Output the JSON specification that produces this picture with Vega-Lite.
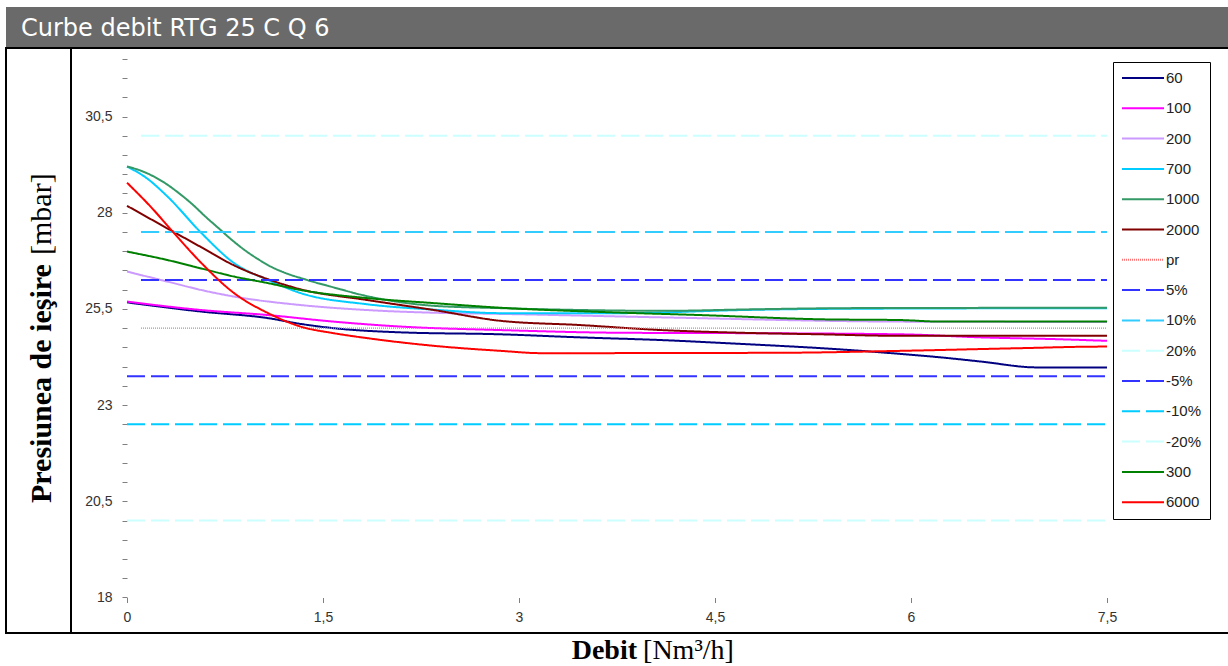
{
  "$schema": "https://vega.github.io/schema/vega-lite/v6.json",
  "padding": {"left": 5, "top": 7, "right": 0, "bottom": 0},
  "bounds": "flush",
  "columns": 2,
  "spacing": 0,
  "config": {"concat": {"spacing": 0}, "view": {"stroke": null}},
  "datasets": {
    "curves": [
      {"s":"60","x":0,"y":25.67},{"s":"60","x":0.57,"y":25.43},{"s":"60","x":1.08,"y":25.26},{"s":"60","x":1.33,"y":25.11},{"s":"60","x":1.58,"y":25.0},{"s":"60","x":2.1,"y":24.89},{"s":"60","x":2.86,"y":24.84},{"s":"60","x":3.47,"y":24.76},{"s":"60","x":4.09,"y":24.69},{"s":"60","x":4.7,"y":24.59},{"s":"60","x":5.31,"y":24.48},{"s":"60","x":5.62,"y":24.41},{"s":"60","x":5.92,"y":24.33},{"s":"60","x":6.23,"y":24.24},{"s":"60","x":6.54,"y":24.13},{"s":"60","x":6.96,"y":23.98},{"s":"60","x":7.5,"y":23.98},
      {"s":"100","x":0,"y":25.69},{"s":"100","x":0.57,"y":25.47},{"s":"100","x":1.08,"y":25.34},{"s":"100","x":1.58,"y":25.17},{"s":"100","x":2.1,"y":25.04},{"s":"100","x":2.86,"y":24.95},{"s":"100","x":3.78,"y":24.88},{"s":"100","x":4.7,"y":24.87},{"s":"100","x":5.92,"y":24.84},{"s":"100","x":6.54,"y":24.76},{"s":"100","x":7.15,"y":24.71},{"s":"100","x":7.5,"y":24.67},
      {"s":"200","x":0,"y":26.47},{"s":"200","x":0.31,"y":26.21},{"s":"200","x":0.57,"y":25.99},{"s":"200","x":0.82,"y":25.82},{"s":"200","x":1.33,"y":25.6},{"s":"200","x":1.84,"y":25.47},{"s":"200","x":2.35,"y":25.4},{"s":"200","x":2.86,"y":25.37},{"s":"200","x":4.09,"y":25.28},{"s":"200","x":5.92,"y":25.17},{"s":"200","x":7.5,"y":25.16},
      {"s":"700","x":0,"y":29.2},{"s":"700","x":0.15,"y":28.9},{"s":"700","x":0.31,"y":28.42},{"s":"700","x":0.57,"y":27.47},{"s":"700","x":0.82,"y":26.69},{"s":"700","x":1.08,"y":26.25},{"s":"700","x":1.33,"y":25.91},{"s":"700","x":1.84,"y":25.62},{"s":"700","x":2.35,"y":25.48},{"s":"700","x":2.86,"y":25.39},{"s":"700","x":3.78,"y":25.39},{"s":"700","x":4.7,"y":25.47},{"s":"700","x":5.31,"y":25.5},{"s":"700","x":7.5,"y":25.52},
      {"s":"1000","x":0,"y":29.2},{"s":"1000","x":0.1,"y":29.1},{"s":"1000","x":0.2,"y":28.95},{"s":"1000","x":0.3,"y":28.75},{"s":"1000","x":0.4,"y":28.5},{"s":"1000","x":0.5,"y":28.22},{"s":"1000","x":0.6,"y":27.9},{"s":"1000","x":0.7,"y":27.6},{"s":"1000","x":0.8,"y":27.3},{"s":"1000","x":0.9,"y":27.03},{"s":"1000","x":1.0,"y":26.8},{"s":"1000","x":1.1,"y":26.6},{"s":"1000","x":1.2,"y":26.45},{"s":"1000","x":1.38,"y":26.25},{"s":"1000","x":1.58,"y":26.06},{"s":"1000","x":1.84,"y":25.83},{"s":"1000","x":2.1,"y":25.67},{"s":"1000","x":2.35,"y":25.58},{"s":"1000","x":2.86,"y":25.52},{"s":"1000","x":3.5,"y":25.47},{"s":"1000","x":4.1,"y":25.45},{"s":"1000","x":4.8,"y":25.49},{"s":"1000","x":5.5,"y":25.52},{"s":"1000","x":7.5,"y":25.53},
      {"s":"2000","x":0,"y":28.18},{"s":"2000","x":0.31,"y":27.59},{"s":"2000","x":0.57,"y":27.1},{"s":"2000","x":0.82,"y":26.63},{"s":"2000","x":1.08,"y":26.27},{"s":"2000","x":1.33,"y":26.01},{"s":"2000","x":1.84,"y":25.73},{"s":"2000","x":2.35,"y":25.47},{"s":"2000","x":2.86,"y":25.19},{"s":"2000","x":3.47,"y":25.08},{"s":"2000","x":4.09,"y":24.95},{"s":"2000","x":4.7,"y":24.88},{"s":"2000","x":5.31,"y":24.84},{"s":"2000","x":5.92,"y":24.8},{"s":"2000","x":7.5,"y":24.8},
      {"s":"pr","x":0.107,"y":25},{"s":"pr","x":7.5,"y":25},
      {"s":"5%","x":0.107,"y":26.25},{"s":"5%","x":7.5,"y":26.25},
      {"s":"10%","x":0.107,"y":27.5},{"s":"10%","x":7.5,"y":27.5},
      {"s":"20%","x":0.107,"y":30},{"s":"20%","x":7.5,"y":30},
      {"s":"-5%","x":0,"y":23.75},{"s":"-5%","x":7.5,"y":23.75},
      {"s":"-10%","x":0,"y":22.5},{"s":"-10%","x":7.5,"y":22.5},
      {"s":"-20%","x":0,"y":20},{"s":"-20%","x":7.5,"y":20},
      {"s":"300","x":0,"y":26.99},{"s":"300","x":0.31,"y":26.77},{"s":"300","x":0.57,"y":26.55},{"s":"300","x":0.82,"y":26.34},{"s":"300","x":1.08,"y":26.17},{"s":"300","x":1.33,"y":25.99},{"s":"300","x":1.84,"y":25.78},{"s":"300","x":2.35,"y":25.65},{"s":"300","x":2.86,"y":25.53},{"s":"300","x":3.63,"y":25.42},{"s":"300","x":4.39,"y":25.34},{"s":"300","x":5.31,"y":25.23},{"s":"300","x":5.92,"y":25.21},{"s":"300","x":6.23,"y":25.17},{"s":"300","x":7.5,"y":25.17},
      {"s":"6000","x":0,"y":28.78},{"s":"6000","x":0.18,"y":28.16},{"s":"6000","x":0.36,"y":27.47},{"s":"6000","x":0.57,"y":26.69},{"s":"6000","x":0.82,"y":25.91},{"s":"6000","x":1.08,"y":25.39},{"s":"6000","x":1.33,"y":25.04},{"s":"6000","x":1.58,"y":24.87},{"s":"6000","x":1.84,"y":24.74},{"s":"6000","x":2.35,"y":24.54},{"s":"6000","x":2.86,"y":24.41},{"s":"6000","x":3.17,"y":24.35},{"s":"6000","x":5.0,"y":24.36},{"s":"6000","x":5.92,"y":24.41},{"s":"6000","x":6.84,"y":24.48},{"s":"6000","x":7.45,"y":24.52},{"s":"6000","x":7.5,"y":24.52}
    ]
  },
  "concat": [
    {
      "width": 65,
      "height": 41,
      "view": {"fill": "#6a6a6a", "stroke": null},
      "layer": [
        {
          "mark": {"type": "rule", "color": "#000000", "strokeWidth": 2},
          "encoding": {"x": {"datum": 0, "type": "quantitative", "scale": {"domain": [0, 1]}, "axis": null}, "x2": {"datum": 1}, "y": {"datum": 1, "type": "quantitative", "scale": {"domain": [0, 1]}, "axis": null}}
        },
        {
          "mark": {"type": "rule", "color": "#000000", "strokeWidth": 2},
          "encoding": {"x": {"datum": 0, "type": "quantitative"}, "y": {"datum": 0, "type": "quantitative"}, "y2": {"datum": 1}}
        }
      ]
    },
    {
      "width": 1158,
      "height": 41,
      "view": {"fill": "#6a6a6a", "stroke": null},
      "layer": [
        {
          "mark": {"type": "rule", "color": "#000000", "strokeWidth": 2},
          "encoding": {"x": {"datum": 0, "type": "quantitative", "scale": {"domain": [0, 1]}, "axis": null}, "x2": {"datum": 1}, "y": {"datum": 1, "type": "quantitative", "scale": {"domain": [0, 1]}, "axis": null}}
        },
        {
          "data": {"values": [{"t": "Curbe debit RTG 25 C Q 6"}]},
          "mark": {"type": "text", "align": "left", "baseline": "alphabetic", "font": "DejaVu Sans", "fontSize": 24, "color": "#ffffff"},
          "encoding": {
            "text": {"field": "t"},
            "x": {"datum": -0.0432, "type": "quantitative"},
            "y": {"datum": 0.3, "type": "quantitative"}
          }
        }
      ]
    },
    {
      "width": 65,
      "height": 585,
      "view": {"stroke": "#000000", "strokeWidth": 2},
      "layer": [
        {
          "data": {"values": [{"t": "Presiunea de ieşire"}]},
          "mark": {"type": "text", "align": "left", "baseline": "alphabetic", "angle": 270, "font": "Liberation Serif", "fontWeight": "bold", "fontSize": 30, "color": "#000000"},
          "encoding": {
            "text": {"field": "t"},
            "x": {"datum": 0.692, "type": "quantitative", "scale": {"domain": [0, 1]}, "axis": null},
            "y": {"datum": 0.2222, "type": "quantitative", "scale": {"domain": [0, 1]}, "axis": null}
          }
        },
        {
          "data": {"values": [{"t": "[mbar]"}]},
          "mark": {"type": "text", "align": "left", "baseline": "alphabetic", "angle": 270, "font": "Liberation Serif", "fontSize": 30, "color": "#000000"},
          "encoding": {
            "text": {"field": "t"},
            "x": {"datum": 0.692, "type": "quantitative"},
            "y": {"datum": 0.6462, "type": "quantitative"}
          }
        }
      ]
    },
    {
      "width": 1158,
      "height": 585,
      "view": {"stroke": "#000000", "strokeWidth": 2},
      "layer": [
        {
          "data": {"name": "curves"},
          "mark": {"type": "line", "interpolate": "monotone"},
          "encoding": {
            "x": {"field": "x", "type": "quantitative", "scale": {"domain": [-0.42857, 8.4337], "nice": false, "zero": false}, "axis": {"orient": "bottom", "offset": -35.5, "values": [0, 1.5, 3, 4.5, 6, 7.5], "tickCount": 50, "labelExpr": "replace(format(datum.value, '~g'), '.', ',')", "grid": false, "domain": false, "tickSize": 5, "tickColor": "#808080", "labelPadding": 8, "labelFont": "Liberation Sans", "labelFontSize": 14, "labelColor": "#333333", "labelFlush": false, "labelOverlap": false, "title": null}},
            "y": {"field": "y", "type": "quantitative", "scale": {"domain": [17.0774, 32.2807], "nice": false, "zero": false}, "axis": {"orient": "left", "offset": -56, "values": [18,18.5,19,19.5,20,20.5,21,21.5,22,22.5,23,23.5,24,24.5,25,25.5,26,26.5,27,27.5,28,28.5,29,29.5,30,30.5,31,31.5,32], "tickCount": 100, "labelExpr": "(datum.value - 18) % 2.5 === 0 ? replace(format(datum.value, '~g'), '.', ',') : ''", "grid": false, "domain": false, "tickSize": 5, "tickColor": "#808080", "labelPadding": 10, "labelFont": "Liberation Sans", "labelFontSize": 14, "labelColor": "#333333", "labelFlush": false, "labelOverlap": false, "title": null}},
            "color": {
              "field": "s", "type": "nominal",
              "scale": {
                "domain": ["60","100","200","700","1000","2000","pr","5%","10%","20%","-5%","-10%","-20%","300","6000"],
                "range": ["#000080","#ff00ff","#cc99ff","#00ccff","#339966","#800000","#ff7070","#3333ff","#33ccff","#ccffff","#3333ff","#00ccff","#ccffff","#008000","#ff0000"]
              },
              "legend": {"orient": "none", "legendX": 1107, "legendY": 55, "title": null, "padding": 8, "strokeColor": "#000000", "fillColor": "#ffffff", "symbolType": "stroke", "symbolSize": 1764, "symbolStrokeWidth": 2, "labelOffset": 1, "labelFont": "Liberation Sans", "labelFontSize": 15, "labelColor": "#222222", "clipHeight": 16, "rowPadding": 14.3}
            },
            "strokeDash": {
              "field": "s", "type": "nominal",
              "scale": {
                "domain": ["60","100","200","700","1000","2000","pr","5%","10%","20%","-5%","-10%","-20%","300","6000"],
                "range": [[1,0],[1,0],[1,0],[1,0],[1,0],[1,0],[1,1],[18,6],[18,6],[18,6],[18,6],[18,6],[18,6],[1,0],[1,0]]
              },
              "legend": {"orient": "none", "legendX": 1107, "legendY": 55, "title": null, "padding": 8, "strokeColor": "#000000", "fillColor": "#ffffff", "symbolType": "stroke", "symbolSize": 1764, "symbolStrokeWidth": 2, "labelOffset": 1, "labelFont": "Liberation Sans", "labelFontSize": 15, "labelColor": "#222222", "clipHeight": 16, "rowPadding": 14.3}
            },
            "strokeWidth": {"condition": {"test": "datum.s === 'pr'", "value": 1.2}, "value": 2}
          }
        },
        {
          "mark": {"type": "rule", "color": "#f5c890", "strokeWidth": 2},
          "encoding": {"x": {"datum": 6, "type": "quantitative"}, "y": {"datum": 18, "type": "quantitative"}, "y2": {"datum": 32}}
        },
        {
          "mark": {"type": "rule", "color": "#888888", "strokeWidth": 1},
          "encoding": {"x": {"datum": 0, "type": "quantitative"}, "y": {"datum": 18, "type": "quantitative"}, "y2": {"datum": 32}}
        },
        {
          "mark": {"type": "rule", "color": "#888888", "strokeWidth": 1},
          "encoding": {"x": {"datum": 7.5, "type": "quantitative"}, "y": {"datum": 18, "type": "quantitative"}, "y2": {"datum": 32}}
        },
        {
          "mark": {"type": "rule", "color": "#888888", "strokeWidth": 1},
          "encoding": {"x": {"datum": 0, "type": "quantitative"}, "x2": {"datum": 7.5}, "y": {"datum": 32, "type": "quantitative"}}
        },
        {
          "mark": {"type": "rule", "color": "#000000", "strokeWidth": 1.2},
          "encoding": {"x": {"datum": 0, "type": "quantitative"}, "x2": {"datum": 7.5}, "y": {"datum": 18, "type": "quantitative"}}
        }
      ]
    },
    {
      "width": 65,
      "height": 32,
      "layer": [
        {
          "mark": {"type": "rule", "color": "#000000", "strokeWidth": 2},
          "encoding": {"x": {"datum": 0, "type": "quantitative", "scale": {"domain": [0, 1]}, "axis": null}, "y": {"datum": 0, "type": "quantitative", "scale": {"domain": [0, 1]}, "axis": null}, "y2": {"datum": 1}}
        },
        {
          "mark": {"type": "rule", "color": "#000000", "strokeWidth": 2},
          "encoding": {"x": {"datum": 1, "type": "quantitative"}, "y": {"datum": 0, "type": "quantitative"}, "y2": {"datum": 1}}
        }
      ]
    },
    {
      "width": 1158,
      "height": 32,
      "layer": [
        {
          "data": {"values": [{"t": "Debit"}]},
          "mark": {"type": "text", "align": "right", "baseline": "alphabetic", "font": "Liberation Serif", "fontWeight": "bold", "fontSize": 28, "color": "#000000"},
          "encoding": {
            "text": {"field": "t"},
            "x": {"datum": 0.4888, "type": "quantitative", "scale": {"domain": [0, 1]}, "axis": null},
            "y": {"datum": 0.2, "type": "quantitative", "scale": {"domain": [0, 1]}, "axis": null}
          }
        },
        {
          "data": {"values": [{"t": "[Nm³/h]"}]},
          "mark": {"type": "text", "align": "left", "baseline": "alphabetic", "font": "Liberation Serif", "fontSize": 28, "color": "#000000"},
          "encoding": {
            "text": {"field": "t"},
            "x": {"datum": 0.494, "type": "quantitative"},
            "y": {"datum": 0.2, "type": "quantitative"}
          }
        }
      ]
    }
  ]
}
